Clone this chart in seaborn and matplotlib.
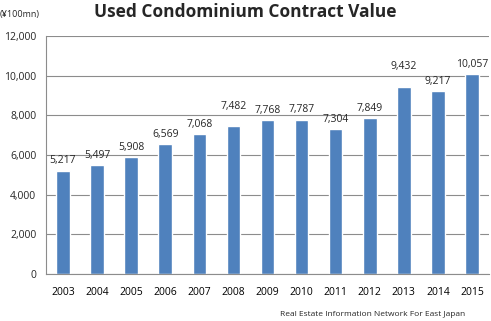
import matplotlib
matplotlib.use("Agg")
import matplotlib.pyplot as plt
import seaborn as sns
import pandas as pd
import numpy as np
from matplotlib.ticker import FixedLocator, FuncFormatter

years = ["2003", "2004", "2005", "2006", "2007", "2008", "2009", "2010", "2011", "2012", "2013", "2014", "2015"]
values = [5217, 5497, 5908, 6569, 7068, 7482, 7768, 7787, 7304, 7849, 9432, 9217, 10057]
yticks = [0, 2000, 4000, 6000, 8000, 10000, 12000]

sns.set_theme(style="white")
plt.rcParams['font.family'] = ['Open Sans', 'DejaVu Sans']

df = pd.DataFrame({"year": years, "value": values})
fig = plt.figure(figsize=(4.91, 3.21), dpi=100)
ax = fig.add_axes([0.0937, 0.1464, 0.9023, 0.7416])
sns.barplot(data=df, x="year", y="value", color="#4F81BD", width=0.4, ax=ax, saturation=1)

ax.set_ylim(0, 12000)
ax.set_xlim(-0.5, len(years) - 0.5)
ax.yaxis.set_major_locator(FixedLocator(yticks))
ax.yaxis.set_major_formatter(FuncFormatter(lambda v, p: f"{int(v):,}"))
ax.grid(axis="y", color="#8C8C8C", linewidth=0.8)
ax.set_axisbelow(True)
for s in ["top", "right"]:
    ax.spines[s].set_visible(False)
for s in ["left", "bottom"]:
    ax.spines[s].set_color("#8C8C8C")
    ax.spines[s].set_linewidth(0.8)
ax.set_xlabel("")
ax.set_ylabel("")
ax.tick_params(axis="x", which="major", length=0, labelsize=7.5, pad=9, colors="black")
ax.set_xticks(np.arange(-0.5, len(years), 1.0), minor=True)
ax.tick_params(axis="x", which="minor", length=4, color="#8C8C8C", width=0.8)
ax.tick_params(axis="y", length=4, color="#8C8C8C", width=0.8, labelsize=7.5, pad=3)

# labels that were nudged upward in the original to clear gridlines (in points)
extra_pad = {"2008": 7, "2013": 8}
for i, (yr, v) in enumerate(zip(years, values)):
    ax.annotate(f"{v:,}", xy=(i, v), xytext=(0, 3 + extra_pad.get(yr, 0)),
                textcoords="offset points", ha="center", va="bottom", fontsize=7.5)

fig.text(0.5, 0.962, "Used Condominium Contract Value", ha="center", va="center",
         fontsize=12.5, fontweight="bold")
fig.text(0.0, 0.955, "(¥100mn)", ha="left", va="center", fontsize=6.5)
fig.text(0.947, 0.019, "Real Estate Information Network For East Japan", ha="right",
         va="center", fontsize=6)

fig.savefig("out.png", dpi=100)
